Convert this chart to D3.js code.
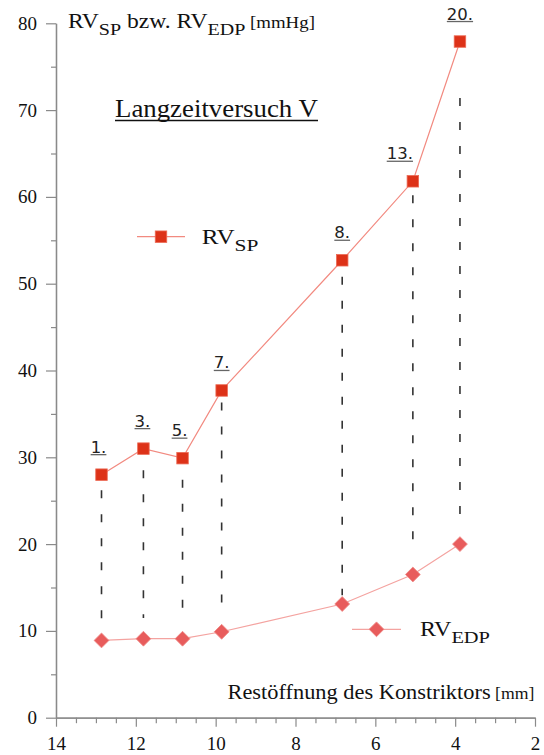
<!DOCTYPE html>
<html>
<head>
<meta charset="utf-8">
<script src="https://cdn.jsdelivr.net/npm/d3@7"></script>
<style>
  html, body { margin: 0; padding: 0; background: #fff; }
  svg { display: block; }
  .serif { font-family: "Liberation Serif", "Times New Roman", Times, serif; }
  .sans { font-family: "DejaVu Sans", Verdana, sans-serif; }
</style>
</head>
<body>
<svg id="chart" width="544" height="755"></svg>
<script>
// Stages of the long-term trial and measured right-ventricular pressures
const stageLabels = ["1.", "3.", "5.", "7.", "8.", "13.", "20."];
const opening = [12.86, 11.81, 10.83, 9.85, 6.83, 5.06, 3.88];   // remaining constrictor opening [mm]
const rvSP = [28.0, 31.0, 29.9, 37.7, 52.7, 61.8, 77.9];          // systolic pressure [mmHg]
const rvEDP = [8.9, 9.1, 9.1, 9.9, 13.1, 16.5, 20.0];             // end-diastolic pressure [mmHg]
// extent of the dashed guide between both readings of a stage [mmHg]
const guideTop = [26.2, 28.5, 27.4, 36.3, 50.8, 60.2, 71.4];
const guideBottom = [11.3, 11.5, 12.1, 12.8, 14.1, 19.7, 22.4];

const xTicks = [14, 12, 10, 8, 6, 4, 2];
const xMinorTicks = d3.range(13.5, 2, -0.5).filter(v => v % 2 !== 0);
const yTicks = [0, 10, 20, 30, 40, 50, 60, 70, 80];
const yMinorTicks = [5, 15, 25, 35, 45, 55, 65, 75];

const AXIS_GREY = "#8a8a8a";
const SP_FILL = "#dd3218";
const SP_LINE = "#f28a80";
const EDP_FILL = "#e85c5c";
const EDP_LINE = "#f4a3a0";

const svg = d3.select("#chart");

const x = d3.scaleLinear().domain([14, 2]).range([56, 535]);
const y = d3.scaleLinear().domain([0, 80]).range([717.7, 23.3]);

// ---- axes ----
function styleAxis(g) {
  g.attr("font-family", null).attr("font-size", null);
  g.selectAll("path.domain").attr("stroke", AXIS_GREY).attr("stroke-width", 1.3);
  g.selectAll(".tick line").attr("stroke", AXIS_GREY).attr("stroke-width", 1.2);
  g.selectAll(".tick text")
    .attr("class", "serif").style("font-size", "19px").attr("fill", "#111");
}

svg.append("g")
  .attr("transform", `translate(${x.range()[0]},0)`)
  .call(d3.axisLeft(y).tickValues(yMinorTicks).tickSize(5).tickSizeOuter(0).tickFormat(""))
  .call(styleAxis);
svg.append("g")
  .attr("transform", `translate(${x.range()[0]},0)`)
  .call(d3.axisLeft(y).tickValues(yTicks).tickSize(10).tickSizeOuter(0).tickPadding(9))
  .call(styleAxis);

svg.append("g")
  .attr("transform", `translate(0,${y(0)})`)
  .call(d3.axisBottom(x).tickValues(xMinorTicks).tickSize(5.5).tickSizeOuter(0).tickFormat(""))
  .call(styleAxis);
svg.append("g")
  .attr("transform", `translate(0,${y(0)})`)
  .call(d3.axisBottom(x).tickValues(xTicks).tickSize(9).tickSizeOuter(0).tickPadding(10))
  .call(styleAxis);

// ---- text helper: runs of normal / subscript pieces, stretched to a width ----
function richText(parent, left, baseline, pieces, width) {
  const g = parent.append("g");
  const t = g.append("text")
    .attr("class", "serif")
    .attr("x", 0).attr("y", baseline)
    .attr("fill", "#111");
  pieces.forEach(p => {
    t.append("tspan")
      .attr("y", baseline + (p.shift || 0))
      .style("font-size", p.size + "px")
      .style("white-space", "pre")
      .text(p.t);
  });
  const w = t.node().getBBox().width;
  const sx = width ? width / w : 1;
  g.attr("transform", `translate(${left},0) scale(${sx},1)`);
  return g;
}

// y-axis title
richText(svg, 68, 28.3, [
  { t: "RV", size: 20 },
  { t: "SP", size: 17, shift: 7 },
  { t: " bzw. RV", size: 20 },
  { t: "EDP", size: 17, shift: 7 },
  { t: " [mmHg]", size: 16 }
], 247);

// x-axis title
richText(svg, 227.5, 699, [
  { t: "Restöffnung des Konstriktors", size: 21.5 },
  { t: " [mm]", size: 17 }
], 307);

// chart title with underline
richText(svg, 115, 117, [{ t: "Langzeitversuch V", size: 25 }], 203);
svg.append("line")
  .attr("x1", 115).attr("x2", 318).attr("y1", 120.5).attr("y2", 120.5)
  .attr("stroke", "#111").attr("stroke-width", 1.4);

// ---- dashed guides between systolic and end-diastolic reading ----
svg.append("g").selectAll("line")
  .data(opening)
  .join("line")
  .attr("x1", d => x(d)).attr("x2", d => x(d))
  .attr("y1", (d, i) => y(guideTop[i]))
  .attr("y2", (d, i) => y(guideBottom[i]))
  .attr("stroke", "#333").attr("stroke-width", 1.6)
  .attr("stroke-dasharray", "8,16");

// ---- series ----
const spData = opening.map((o, i) => ({ o, v: rvSP[i], label: stageLabels[i] }));
const edpData = opening.map((o, i) => ({ o, v: rvEDP[i] }));
const line = d3.line().x(d => x(d.o)).y(d => y(d.v));

svg.append("path").datum(edpData)
  .attr("d", line).attr("fill", "none")
  .attr("stroke", EDP_LINE).attr("stroke-width", 1.2);
svg.append("path").datum(spData)
  .attr("d", line).attr("fill", "none")
  .attr("stroke", SP_LINE).attr("stroke-width", 1.2);

const SQ = 11.5;
const diamond = d3.symbol().type(d3.symbolSquare).size(110);

svg.append("g").selectAll("path")
  .data(edpData)
  .join("path")
  .attr("d", diamond)
  .attr("transform", d => `translate(${x(d.o)},${y(d.v)}) rotate(45)`)
  .attr("fill", EDP_FILL).attr("stroke", "#ef8a86").attr("stroke-width", 0.8);

svg.append("g").selectAll("rect")
  .data(spData)
  .join("rect")
  .attr("x", d => x(d.o) - SQ / 2).attr("y", d => y(d.v) - SQ / 2)
  .attr("width", SQ).attr("height", SQ)
  .attr("fill", SP_FILL).attr("stroke", "#ec6a55").attr("stroke-width", 0.8);

// ---- stage labels (underlined) above systolic markers ----
const labelShift = [-3, -1, -3, 0, 0, -13, 0];
const labels = svg.append("g");
spData.forEach((d, i) => {
  const cx = x(d.o) + labelShift[i];
  const by = y(d.v) - 22;
  const t = labels.append("text")
    .attr("class", "sans")
    .attr("x", cx).attr("y", by)
    .attr("text-anchor", "middle")
    .style("font-size", "16.5px").attr("fill", "#222")
    .text(d.label);
  const bb = t.node().getBBox();
  labels.append("line")
    .attr("x1", bb.x).attr("x2", bb.x + bb.width)
    .attr("y1", by + 2).attr("y2", by + 2)
    .attr("stroke", "#666").attr("stroke-width", 1.3);
});

// ---- legends ----
function legendEntry(xLine0, xLine1, yl, marker, sub, textLeft, baseline, width) {
  svg.append("line")
    .attr("x1", xLine0).attr("x2", xLine1).attr("y1", yl).attr("y2", yl)
    .attr("stroke", marker === "square" ? SP_LINE : EDP_LINE).attr("stroke-width", 1.2);
  const cx = (xLine0 + xLine1) / 2;
  if (marker === "square") {
    svg.append("rect")
      .attr("x", cx - SQ / 2).attr("y", yl - SQ / 2).attr("width", SQ).attr("height", SQ)
      .attr("fill", SP_FILL).attr("stroke", "#ec6a55").attr("stroke-width", 0.8);
  } else {
    svg.append("path").attr("d", diamond)
      .attr("transform", `translate(${cx},${yl}) rotate(45)`)
      .attr("fill", EDP_FILL).attr("stroke", "#ef8a86").attr("stroke-width", 0.8);
  }
  richText(svg, textLeft, baseline, [
    { t: "RV", size: 20 },
    { t: sub, size: 17, shift: 7 }
  ], width);
}
legendEntry(137, 185, 236.7, "square", "SP", 201.7, 244.3, 56.7);
legendEntry(352, 401, 629.3, "diamond", "EDP", 420, 636.5, 70);
</script>
</body>
</html>
